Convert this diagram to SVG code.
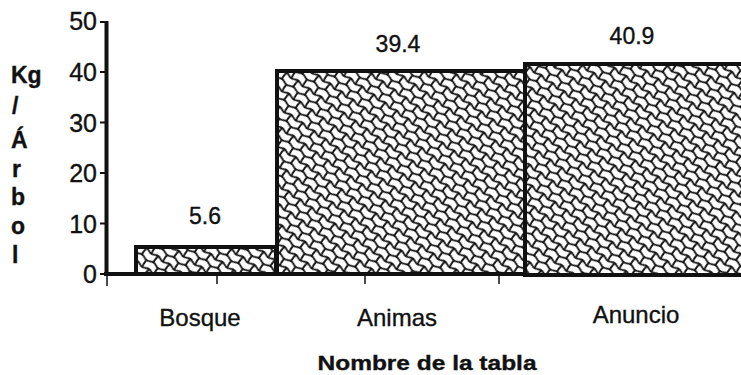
<svg xmlns="http://www.w3.org/2000/svg" width="741" height="375" viewBox="0 0 741 375">
<style>
text{font-family:"Liberation Sans",Arial,sans-serif;fill:#111;stroke:#111;stroke-width:0.35}
.num{font-size:25px;text-anchor:end}
.val{font-size:23px;text-anchor:middle}
.cat{font-size:24px;text-anchor:middle}
.yt{font-size:23px;font-weight:bold}
.xt{font-size:20px;font-weight:bold;text-anchor:middle}
.bar{fill:url(#weave);stroke:#111;stroke-width:4}
.ax{stroke:#111;fill:none}
</style>
<defs>
<pattern id="weave" patternUnits="userSpaceOnUse" width="14" height="16" patternTransform="rotate(35)">
<rect width="14" height="16" fill="#fff"/>
<path d="M0,0 Q3.5,2 7,0 T14,0 M0,8 Q3.5,10 7,8 T14,8 M0,16 Q3.5,18 7,16 T14,16 M3.5,0 Q2.5,4 3.5,8 M10.5,8 Q9.5,12 10.5,16" stroke="#111" stroke-width="1.9" fill="none" stroke-linecap="round"/>
</pattern>
</defs>
<g id="bars">
<g id="bar-bosque"><rect class="bar" x="136" y="247" width="140" height="27"/></g>
<g id="bar-animas"><rect class="bar" x="277" y="71" width="248" height="203"/></g>
<g id="bar-anuncio"><rect class="bar" x="525" y="64" width="230" height="211"/></g>
</g>
<g id="axes">
<path class="ax" stroke-width="4" d="M106.5,21 V275 M104,274 H136"/>
<path class="ax" stroke-width="2" d="M100,22 H108 M100,72 H108 M100,122.5 H108 M100,173 H108 M100,223.5 H108 M100,274 H108"/>
<path class="ax" stroke-width="1.5" d="M107,275 V286 M217,275 V284 M365,275 V284 M499,275 V284"/>
</g>
<g id="y-labels">
<text class="num" x="97" y="30">50</text>
<text class="num" x="97" y="81">40</text>
<text class="num" x="97" y="132">30</text>
<text class="num" x="97" y="182">20</text>
<text class="num" x="97" y="233">10</text>
<text class="num" x="97" y="283">0</text>
</g>
<g id="y-title" class="yt">
<text x="11" y="83">Kg</text>
<text x="12" y="114">/</text>
<text x="11" y="148">Á</text>
<text x="12" y="177">r</text>
<text x="11" y="205">b</text>
<text x="11" y="234">o</text>
<text x="12" y="263">l</text>
</g>
<g id="values">
<text class="val" x="205" y="224">5.6</text>
<text class="val" x="398" y="52">39.4</text>
<text class="val" x="632" y="44">40.9</text>
</g>
<g id="categories">
<text class="cat" x="200" y="326">Bosque</text>
<text class="cat" x="397" y="326">Animas</text>
<text class="cat" x="636" y="323">Anuncio</text>
</g>
<text class="xt" x="427" y="370" textLength="219" lengthAdjust="spacingAndGlyphs">Nombre de la tabla</text>
</svg>
